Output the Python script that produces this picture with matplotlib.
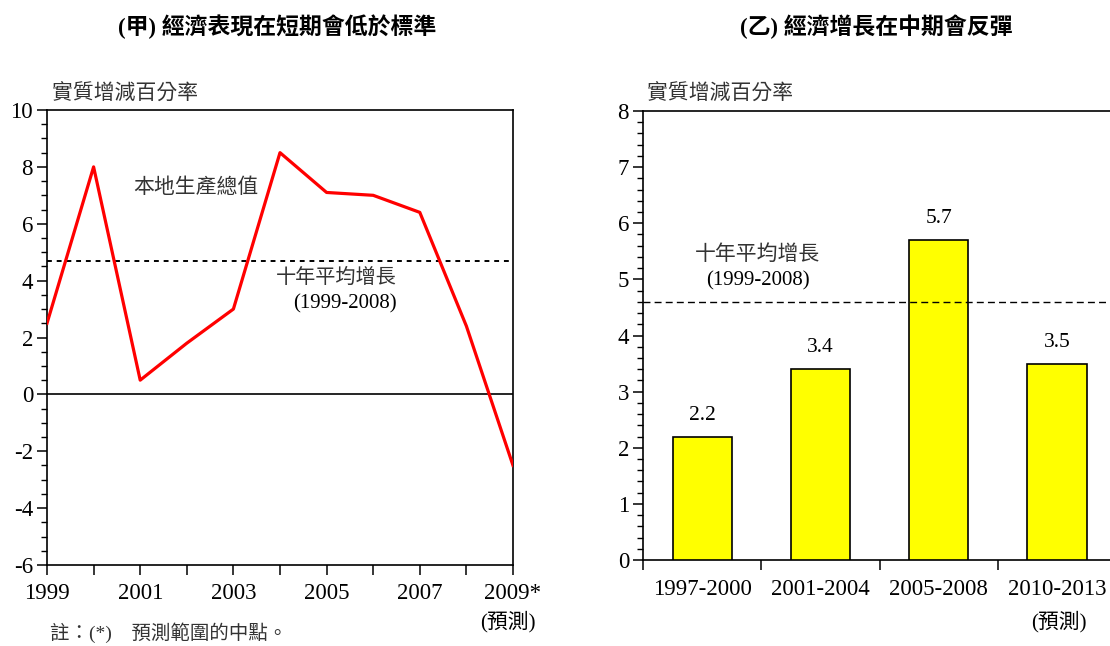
import numpy as np
import matplotlib
matplotlib.use("Agg")
import matplotlib.pyplot as plt
from matplotlib.ticker import MultipleLocator, FixedLocator

plt.rcParams['font.family'] = ['Liberation Serif', 'Noto Sans CJK TC']
plt.rcParams['axes.linewidth'] = 1.2
plt.rcParams['axes.unicode_minus'] = False

# left panel data: real GDP growth (%)
years = [1999, 2000, 2001, 2002, 2003, 2004, 2005, 2006, 2007, 2008, 2009]
gdp = [2.5, 8.0, 0.5, 1.8, 3.0, 8.5, 7.1, 7.0, 6.4, 2.4, -2.5]
year_labels = ['1999', '', '2001', '', '2003', '', '2005', '', '2007', '', '2009*']
avg_left = 4.7

# right panel data: average growth per period (%)
periods = ['1997-2000', '2001-2004', '2005-2008', '2010-2013']
period_growth = [2.2, 3.4, 5.7, 3.5]
avg_right = 4.6

cjk_grey = '#333333'
W, H = 1110, 646
fig = plt.figure(figsize=(W / 100, H / 100), dpi=100)

# ---- left panel
ax1 = fig.add_axes([47 / W, 1 - 565 / H, (513 - 47) / W, (565 - 110) / H])
ax1.plot(years, gdp, color='red', lw=2.3, zorder=3)
ax1.axhline(0, color='black', lw=1.2)
ax1.axhline(avg_left, color='black', lw=1.4, ls=(0, (2.5, 2.5)))
ax1.set_xlim(1999, 2009)
ax1.set_ylim(-6, 10)
ax1.xaxis.set_major_locator(FixedLocator(years))
ax1.set_xticklabels(year_labels)
ax1.yaxis.set_major_locator(MultipleLocator(2))
ax1.yaxis.set_minor_locator(MultipleLocator(0.5))
ax1.tick_params(axis='both', which='major', length=7, width=1.1, labelsize=16.5, direction='out')
ax1.tick_params(axis='y', which='minor', length=4, width=1.0, direction='out')
ax1.tick_params(axis='x', pad=6)
ax1.tick_params(axis='y', pad=3)
ax1.text(2002.2, 7.25, '本地生產總值', fontsize=15, color=cjk_grey, ha='center', va='center')
ax1.text(2005.2, 4.08, '十年平均增長', fontsize=14.5, color=cjk_grey, ha='center', va='center')
ax1.text(2005.4, 3.17, '(1999-2008)', fontsize=15, color='black', ha='center', va='center')

# ---- right panel
ax2 = fig.add_axes([643 / W, 1 - 560 / H, 4 * 118.3 / W, (560 - 111) / H])
x = np.arange(len(periods))
ax2.bar(x, period_growth, width=0.5, color='#ffff00', edgecolor='black', lw=1.2, zorder=3)
ax2.axhline(avg_right, color='black', lw=1.0, ls=(0, (5, 3)), zorder=4)
for xi, v in zip(x, period_growth):
    ax2.text(xi, v + 0.38, f'{v:.1f}', fontsize=15.5, ha='center', va='center')
ax2.set_xlim(-0.5, 3.5)
ax2.set_ylim(0, 8)
ax2.spines['right'].set_visible(False)
ax2.set_xticks(x)
ax2.set_xticklabels(periods)
ax2.xaxis.set_minor_locator(FixedLocator([-0.5, 0.5, 1.5, 2.5]))
ax2.tick_params(axis='x', which='major', length=0, labelsize=16.5, pad=14)
ax2.tick_params(axis='x', which='minor', length=7, width=1.1, direction='out')
ax2.yaxis.set_major_locator(MultipleLocator(1))
ax2.yaxis.set_minor_locator(MultipleLocator(0.2))
ax2.tick_params(axis='y', which='major', length=7, width=1.1, labelsize=16.5, direction='out', pad=3)
ax2.tick_params(axis='y', which='minor', length=4, width=1.0, direction='out')
ax2.text(0.47, 5.44, '十年平均增長', fontsize=15, color=cjk_grey, ha='center', va='center')
ax2.text(0.47, 4.97, '(1999-2008)', fontsize=15, color='black', ha='center', va='center')

# ---- titles and notes
fig.text(277 / W, 1 - 27 / H, '(甲) 經濟表現在短期會低於標準', fontsize=16.5, fontweight='bold',
         ha='center', va='center')
fig.text(876 / W, 1 - 27 / H, '(乙) 經濟增長在中期會反彈', fontsize=16.5, fontweight='bold',
         ha='center', va='center')
fig.text(52 / W, 1 - 94 / H, '實質增減百分率', fontsize=15, color=cjk_grey, ha='left', va='center')
fig.text(647 / W, 1 - 94 / H, '實質增減百分率', fontsize=15, color=cjk_grey, ha='left', va='center')
fig.text(508 / W, 1 - 622 / H, '(預測)', fontsize=15, ha='center', va='center')
fig.text(1059 / W, 1 - 622 / H, '(預測)', fontsize=15, ha='center', va='center')
fig.text(50 / W, 1 - 633 / H, '註：(*)　預測範圍的中點。', fontsize=14, color=cjk_grey,
         ha='left', va='center')

fig.savefig('out.png', dpi=100)
